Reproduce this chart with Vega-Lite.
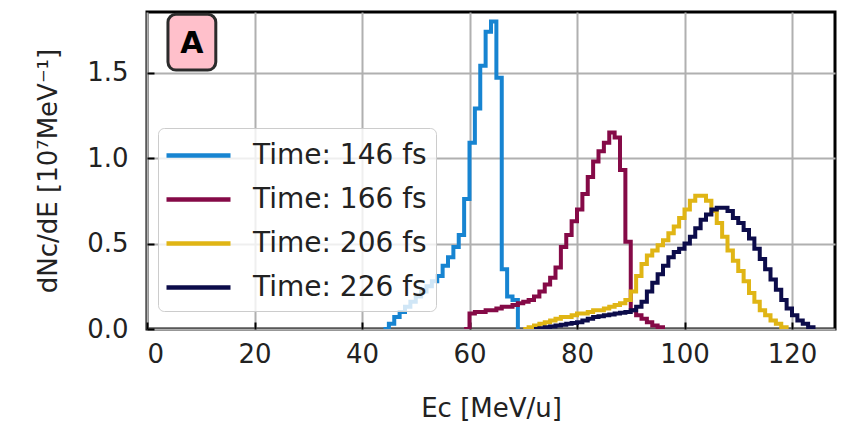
{
  "$schema": "https://vega.github.io/schema/vega-lite/v6.json",
  "width": 688,
  "height": 317,
  "autosize": {"type": "none"},
  "padding": {"left": 147, "top": 12, "right": 11, "bottom": 97},
  "background": "white",
  "config": {
    "font": "DejaVu Sans",
    "view": {"stroke": "black", "strokeWidth": 3},
    "axis": {
      "domain": false,
      "grid": true,
      "gridColor": "#b0b0b0",
      "gridWidth": 2,
      "tickColor": "black",
      "tickWidth": 2,
      "tickSize": -7,
      "labelFont": "DejaVu Sans",
      "labelFontSize": 26,
      "labelColor": "#222222",
      "titleFont": "DejaVu Sans",
      "titleFontSize": 26,
      "titleFontWeight": "normal",
      "titleColor": "#222222"
    }
  },
  "datasets": {
    "hist": [
      {"t": "Time: 146 fs", "E": 44, "v": 0},
      {"t": "Time: 146 fs", "E": 45, "v": 0.03},
      {"t": "Time: 146 fs", "E": 46, "v": 0.07},
      {"t": "Time: 146 fs", "E": 47, "v": 0.10},
      {"t": "Time: 146 fs", "E": 48, "v": 0.13},
      {"t": "Time: 146 fs", "E": 49, "v": 0.16},
      {"t": "Time: 146 fs", "E": 50, "v": 0.19},
      {"t": "Time: 146 fs", "E": 51, "v": 0.22},
      {"t": "Time: 146 fs", "E": 52, "v": 0.25},
      {"t": "Time: 146 fs", "E": 53, "v": 0.28},
      {"t": "Time: 146 fs", "E": 54, "v": 0.31},
      {"t": "Time: 146 fs", "E": 55, "v": 0.37},
      {"t": "Time: 146 fs", "E": 56, "v": 0.42},
      {"t": "Time: 146 fs", "E": 57, "v": 0.48},
      {"t": "Time: 146 fs", "E": 58, "v": 0.55},
      {"t": "Time: 146 fs", "E": 59, "v": 0.76},
      {"t": "Time: 146 fs", "E": 60, "v": 1.09},
      {"t": "Time: 146 fs", "E": 61, "v": 1.29},
      {"t": "Time: 146 fs", "E": 62, "v": 1.54},
      {"t": "Time: 146 fs", "E": 63, "v": 1.74},
      {"t": "Time: 146 fs", "E": 64, "v": 1.80},
      {"t": "Time: 146 fs", "E": 65, "v": 1.47},
      {"t": "Time: 146 fs", "E": 66, "v": 0.35},
      {"t": "Time: 146 fs", "E": 67, "v": 0.19},
      {"t": "Time: 146 fs", "E": 68, "v": 0.17},
      {"t": "Time: 146 fs", "E": 69, "v": 0},
      {"t": "Time: 166 fs", "E": 59, "v": 0},
      {"t": "Time: 166 fs", "E": 60, "v": 0.09},
      {"t": "Time: 166 fs", "E": 61, "v": 0.10},
      {"t": "Time: 166 fs", "E": 62, "v": 0.10},
      {"t": "Time: 166 fs", "E": 63, "v": 0.11},
      {"t": "Time: 166 fs", "E": 64, "v": 0.11},
      {"t": "Time: 166 fs", "E": 65, "v": 0.12},
      {"t": "Time: 166 fs", "E": 66, "v": 0.13},
      {"t": "Time: 166 fs", "E": 67, "v": 0.13},
      {"t": "Time: 166 fs", "E": 68, "v": 0.14},
      {"t": "Time: 166 fs", "E": 69, "v": 0.15},
      {"t": "Time: 166 fs", "E": 70, "v": 0.16},
      {"t": "Time: 166 fs", "E": 71, "v": 0.17},
      {"t": "Time: 166 fs", "E": 72, "v": 0.19},
      {"t": "Time: 166 fs", "E": 73, "v": 0.22},
      {"t": "Time: 166 fs", "E": 74, "v": 0.26},
      {"t": "Time: 166 fs", "E": 75, "v": 0.30},
      {"t": "Time: 166 fs", "E": 76, "v": 0.36},
      {"t": "Time: 166 fs", "E": 77, "v": 0.48},
      {"t": "Time: 166 fs", "E": 78, "v": 0.55},
      {"t": "Time: 166 fs", "E": 79, "v": 0.63},
      {"t": "Time: 166 fs", "E": 80, "v": 0.70},
      {"t": "Time: 166 fs", "E": 81, "v": 0.79},
      {"t": "Time: 166 fs", "E": 82, "v": 0.89},
      {"t": "Time: 166 fs", "E": 83, "v": 0.98},
      {"t": "Time: 166 fs", "E": 84, "v": 1.04},
      {"t": "Time: 166 fs", "E": 85, "v": 1.09},
      {"t": "Time: 166 fs", "E": 86, "v": 1.15},
      {"t": "Time: 166 fs", "E": 87, "v": 1.12},
      {"t": "Time: 166 fs", "E": 88, "v": 0.93},
      {"t": "Time: 166 fs", "E": 89, "v": 0.51},
      {"t": "Time: 166 fs", "E": 90, "v": 0.11},
      {"t": "Time: 166 fs", "E": 91, "v": 0.08},
      {"t": "Time: 166 fs", "E": 92, "v": 0.06},
      {"t": "Time: 166 fs", "E": 93, "v": 0.04},
      {"t": "Time: 166 fs", "E": 94, "v": 0.02},
      {"t": "Time: 166 fs", "E": 95, "v": 0.01},
      {"t": "Time: 166 fs", "E": 96, "v": 0},
      {"t": "Time: 206 fs", "E": 70, "v": 0},
      {"t": "Time: 206 fs", "E": 71, "v": 0.01},
      {"t": "Time: 206 fs", "E": 72, "v": 0.02},
      {"t": "Time: 206 fs", "E": 73, "v": 0.03},
      {"t": "Time: 206 fs", "E": 74, "v": 0.04},
      {"t": "Time: 206 fs", "E": 75, "v": 0.05},
      {"t": "Time: 206 fs", "E": 76, "v": 0.06},
      {"t": "Time: 206 fs", "E": 77, "v": 0.07},
      {"t": "Time: 206 fs", "E": 78, "v": 0.07},
      {"t": "Time: 206 fs", "E": 79, "v": 0.08},
      {"t": "Time: 206 fs", "E": 80, "v": 0.09},
      {"t": "Time: 206 fs", "E": 81, "v": 0.09},
      {"t": "Time: 206 fs", "E": 82, "v": 0.10},
      {"t": "Time: 206 fs", "E": 83, "v": 0.11},
      {"t": "Time: 206 fs", "E": 84, "v": 0.11},
      {"t": "Time: 206 fs", "E": 85, "v": 0.12},
      {"t": "Time: 206 fs", "E": 86, "v": 0.13},
      {"t": "Time: 206 fs", "E": 87, "v": 0.14},
      {"t": "Time: 206 fs", "E": 88, "v": 0.15},
      {"t": "Time: 206 fs", "E": 89, "v": 0.17},
      {"t": "Time: 206 fs", "E": 90, "v": 0.22},
      {"t": "Time: 206 fs", "E": 91, "v": 0.31},
      {"t": "Time: 206 fs", "E": 92, "v": 0.38},
      {"t": "Time: 206 fs", "E": 93, "v": 0.43},
      {"t": "Time: 206 fs", "E": 94, "v": 0.46},
      {"t": "Time: 206 fs", "E": 95, "v": 0.49},
      {"t": "Time: 206 fs", "E": 96, "v": 0.52},
      {"t": "Time: 206 fs", "E": 97, "v": 0.56},
      {"t": "Time: 206 fs", "E": 98, "v": 0.60},
      {"t": "Time: 206 fs", "E": 99, "v": 0.65},
      {"t": "Time: 206 fs", "E": 100, "v": 0.70},
      {"t": "Time: 206 fs", "E": 101, "v": 0.75},
      {"t": "Time: 206 fs", "E": 102, "v": 0.78},
      {"t": "Time: 206 fs", "E": 103, "v": 0.78},
      {"t": "Time: 206 fs", "E": 104, "v": 0.75},
      {"t": "Time: 206 fs", "E": 105, "v": 0.69},
      {"t": "Time: 206 fs", "E": 106, "v": 0.62},
      {"t": "Time: 206 fs", "E": 107, "v": 0.54},
      {"t": "Time: 206 fs", "E": 108, "v": 0.46},
      {"t": "Time: 206 fs", "E": 109, "v": 0.40},
      {"t": "Time: 206 fs", "E": 110, "v": 0.34},
      {"t": "Time: 206 fs", "E": 111, "v": 0.28},
      {"t": "Time: 206 fs", "E": 112, "v": 0.21},
      {"t": "Time: 206 fs", "E": 113, "v": 0.16},
      {"t": "Time: 206 fs", "E": 114, "v": 0.11},
      {"t": "Time: 206 fs", "E": 115, "v": 0.08},
      {"t": "Time: 206 fs", "E": 116, "v": 0.05},
      {"t": "Time: 206 fs", "E": 117, "v": 0.03},
      {"t": "Time: 206 fs", "E": 118, "v": 0.01},
      {"t": "Time: 206 fs", "E": 119, "v": 0},
      {"t": "Time: 226 fs", "E": 72, "v": 0},
      {"t": "Time: 226 fs", "E": 73, "v": 0.005},
      {"t": "Time: 226 fs", "E": 74, "v": 0.01},
      {"t": "Time: 226 fs", "E": 75, "v": 0.015},
      {"t": "Time: 226 fs", "E": 76, "v": 0.02},
      {"t": "Time: 226 fs", "E": 77, "v": 0.025},
      {"t": "Time: 226 fs", "E": 78, "v": 0.03},
      {"t": "Time: 226 fs", "E": 79, "v": 0.035},
      {"t": "Time: 226 fs", "E": 80, "v": 0.04},
      {"t": "Time: 226 fs", "E": 81, "v": 0.05},
      {"t": "Time: 226 fs", "E": 82, "v": 0.06},
      {"t": "Time: 226 fs", "E": 83, "v": 0.07},
      {"t": "Time: 226 fs", "E": 84, "v": 0.075},
      {"t": "Time: 226 fs", "E": 85, "v": 0.08},
      {"t": "Time: 226 fs", "E": 86, "v": 0.085},
      {"t": "Time: 226 fs", "E": 87, "v": 0.09},
      {"t": "Time: 226 fs", "E": 88, "v": 0.095},
      {"t": "Time: 226 fs", "E": 89, "v": 0.10},
      {"t": "Time: 226 fs", "E": 90, "v": 0.11},
      {"t": "Time: 226 fs", "E": 91, "v": 0.13},
      {"t": "Time: 226 fs", "E": 92, "v": 0.16},
      {"t": "Time: 226 fs", "E": 93, "v": 0.22},
      {"t": "Time: 226 fs", "E": 94, "v": 0.27},
      {"t": "Time: 226 fs", "E": 95, "v": 0.32},
      {"t": "Time: 226 fs", "E": 96, "v": 0.37},
      {"t": "Time: 226 fs", "E": 97, "v": 0.42},
      {"t": "Time: 226 fs", "E": 98, "v": 0.45},
      {"t": "Time: 226 fs", "E": 99, "v": 0.47},
      {"t": "Time: 226 fs", "E": 100, "v": 0.50},
      {"t": "Time: 226 fs", "E": 101, "v": 0.54},
      {"t": "Time: 226 fs", "E": 102, "v": 0.59},
      {"t": "Time: 226 fs", "E": 103, "v": 0.64},
      {"t": "Time: 226 fs", "E": 104, "v": 0.67},
      {"t": "Time: 226 fs", "E": 105, "v": 0.70},
      {"t": "Time: 226 fs", "E": 106, "v": 0.71},
      {"t": "Time: 226 fs", "E": 107, "v": 0.71},
      {"t": "Time: 226 fs", "E": 108, "v": 0.69},
      {"t": "Time: 226 fs", "E": 109, "v": 0.65},
      {"t": "Time: 226 fs", "E": 110, "v": 0.62},
      {"t": "Time: 226 fs", "E": 111, "v": 0.58},
      {"t": "Time: 226 fs", "E": 112, "v": 0.53},
      {"t": "Time: 226 fs", "E": 113, "v": 0.47},
      {"t": "Time: 226 fs", "E": 114, "v": 0.41},
      {"t": "Time: 226 fs", "E": 115, "v": 0.35},
      {"t": "Time: 226 fs", "E": 116, "v": 0.29},
      {"t": "Time: 226 fs", "E": 117, "v": 0.23},
      {"t": "Time: 226 fs", "E": 118, "v": 0.17},
      {"t": "Time: 226 fs", "E": 119, "v": 0.12},
      {"t": "Time: 226 fs", "E": 120, "v": 0.08},
      {"t": "Time: 226 fs", "E": 121, "v": 0.05},
      {"t": "Time: 226 fs", "E": 122, "v": 0.03},
      {"t": "Time: 226 fs", "E": 123, "v": 0.01},
      {"t": "Time: 226 fs", "E": 124, "v": 0}
    ],
    "panel": [{"label": "A"}]
  },
  "layer": [
    {
      "data": {"name": "hist"},
      "mark": {"type": "line", "interpolate": "step-after", "strokeWidth": 4, "clip": true},
      "encoding": {
        "x": {
          "field": "E", "type": "quantitative",
          "scale": {"domain": [0, 128], "nice": false, "zero": false},
          "axis": {"values": [0, 20, 40, 60, 80, 100, 120], "title": "Eᴄ [MeV/u]", "labelPadding": 19, "titleY": 79, "titleBaseline": "middle"}
        },
        "y": {
          "field": "v", "type": "quantitative",
          "scale": {"domain": [0, 1.855], "nice": false},
          "axis": {"values": [0, 0.5, 1, 1.5], "format": ".1f", "title": "dNᴄ/dE [10⁷MeV⁻¹]", "labelPadding": 26, "titleX": -99, "titleBaseline": "middle"}
        },
        "color": {
          "field": "t", "type": "nominal",
          "scale": {
            "domain": ["Time: 146 fs", "Time: 166 fs", "Time: 206 fs", "Time: 226 fs"],
            "range": ["#1784d1", "#850a47", "#e0b515", "#0c0c4a"]
          },
          "legend": {
            "orient": "none", "legendX": 11, "legendY": 116, "title": null,
            "symbolType": "M-2,0H2", "symbolStrokeWidth": 4.5, "symbolSize": 1024,
            "symbolOffset": 13,
            "labelFontSize": 28, "labelFont": "DejaVu Sans", "labelColor": "#222222",
            "labelOffset": 36, "labelLimit": 400, "padding": 9, "rowPadding": 11,
            "fillColor": "rgba(255,255,255,0.8)", "strokeColor": "#cccccc", "cornerRadius": 6
          }
        }
      }
    },
    {
      "data": {"name": "panel"},
      "mark": {"type": "rect", "fill": "#ffc0cb", "stroke": "#2b2b2b", "strokeWidth": 3, "cornerRadius": 8},
      "encoding": {
        "x": {"datum": 3.9}, "x2": {"datum": 12.8},
        "y": {"datum": 1.842}, "y2": {"datum": 1.515}
      }
    },
    {
      "data": {"name": "panel"},
      "mark": {"type": "text", "fontSize": 30, "fontWeight": "bold", "color": "black", "font": "DejaVu Sans"},
      "encoding": {
        "text": {"field": "label"},
        "x": {"datum": 8.35}, "y": {"datum": 1.67}
      }
    }
  ]
}
